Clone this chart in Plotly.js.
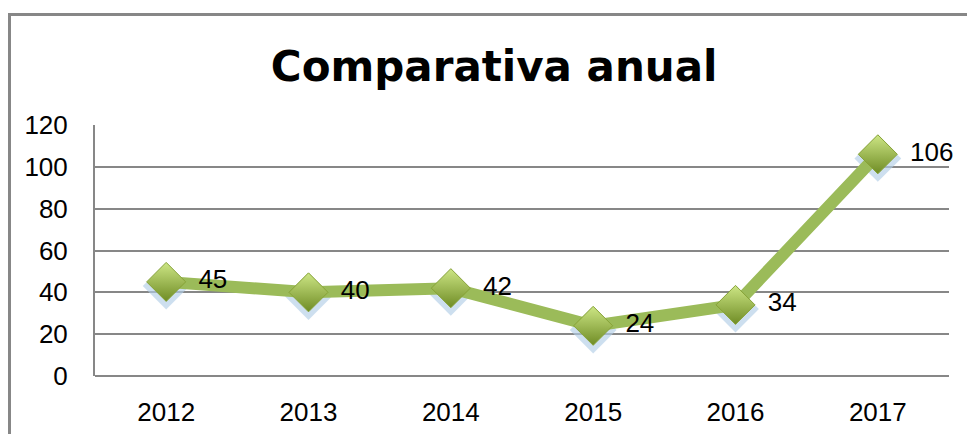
<!DOCTYPE html>
<html>
<head>
<meta charset="utf-8">
<script src="https://cdn.plot.ly/plotly-3.0.1.min.js"></script>
<style>
  html, body { margin: 0; padding: 0; background: #fff; }
  #wrap { position: relative; width: 967px; height: 434px; overflow: hidden; }
  #frame { position: absolute; left: 8px; top: 13px; width: 1000px; height: 500px;
           border-left: 3px solid #878787; border-top: 3px solid #878787; }
  #chart { position: absolute; left: 0; top: 0; width: 967px; height: 434px; }
</style>
</head>
<body>
<div id="wrap">
  <div id="frame"></div>
  <div id="chart"></div>
</div>
<script>
// years and yearly totals
const years = ['2012', '2013', '2014', '2015', '2016', '2017'];
const totals = [45, 40, 42, 24, 34, 106];
const yTicks = [0, 20, 40, 60, 80, 100, 120];

const fontFam = '"Liberation Sans", Arial, sans-serif';

// base trace, keeps the main axes (grid + tick labels) alive
const base = {
    x: years,
    y: totals,
    mode: 'none',
    type: 'scatter',
    hoverinfo: 'skip'
};

// soft blue shadow under each marker (drawn on a slightly shifted axis)
const shadow = {
    x: years,
    y: totals,
    yaxis: 'y2',
    mode: 'markers',
    type: 'scatter',
    hoverinfo: 'skip',
    marker: { symbol: 'diamond', size: 36, color: 'rgba(178,206,230,0.65)' }
};

const trace = {
    x: years,
    y: totals,
    yaxis: 'y3',
    mode: 'lines+markers',
    type: 'scatter',
    line: { color: '#9bbb59', width: 12 },
    marker: {
        symbol: 'diamond',
        size: 30,
        color: '#cde685',
        gradient: { type: 'vertical', color: '#6f8c25' },
        line: { color: '#86a236', width: 1 }
    }
};

// value labels, pushed right by an invisible wider marker
const labels = {
    x: years,
    y: totals,
    yaxis: 'y3',
    mode: 'markers+text',
    type: 'scatter',
    text: totals.map(String),
    textposition: 'middle right',
    textfont: { family: fontFam, size: 26, color: '#000' },
    cliponaxis: false,
    marker: { size: 50, opacity: 0 }
};

const layout = {
    width: 967,
    height: 434,
    margin: { l: 95, r: 18, t: 125, b: 58 },
    paper_bgcolor: 'rgba(0,0,0,0)',
    plot_bgcolor: 'rgba(0,0,0,0)',
    showlegend: false,
    title: {
        text: 'Comparativa anual',
        font: { family: '"DejaVu Sans", sans-serif', size: 42, color: '#000', weight: 'bold' },
        xref: 'container', yref: 'container',
        x: 0.511, y: 0.848, xanchor: 'center', yanchor: 'middle'
    },
    xaxis: {
        type: 'category',
        range: [-0.5, 5.5],
        showgrid: false,
        showline: false,
        ticks: '',
        tickfont: { family: fontFam, size: 26, color: '#000' },
        ticklabelstandoff: 18
    },
    yaxis: {
        range: [0, 120],
        tickvals: yTicks,
        showgrid: true,
        gridcolor: '#878787',
        gridwidth: 2,
        zeroline: true,
        zerolinecolor: '#878787',
        zerolinewidth: 2,
        showline: true,
        linecolor: '#878787',
        linewidth: 2,
        ticks: '',
        tickfont: { family: fontFam, size: 26, color: '#000' },
        ticklabelstandoff: 20
    },
    yaxis2: {
        overlaying: 'y',
        range: [2, 122],
        visible: false,
        showgrid: false,
        zeroline: false
    },
    yaxis3: {
        overlaying: 'y',
        range: [0, 120],
        visible: false,
        showgrid: false,
        zeroline: false
    }
};

Plotly.newPlot('chart', [base, shadow, trace, labels], layout, { displayModeBar: false, staticPlot: true });
</script>
</body>
</html>
